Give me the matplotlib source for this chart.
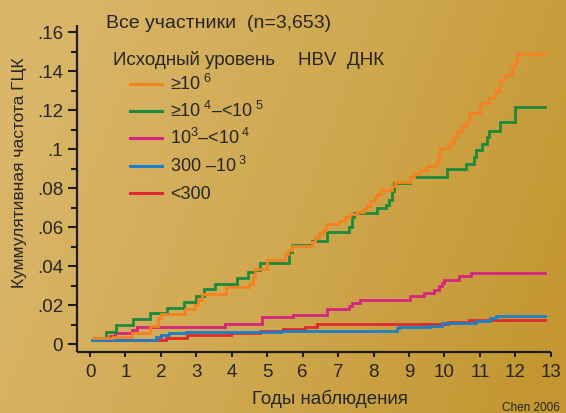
import numpy as np
import matplotlib
matplotlib.use("Agg")
import matplotlib.pyplot as plt
from matplotlib.lines import Line2D
from matplotlib.colors import LinearSegmentedColormap
from matplotlib.ticker import FixedLocator, FixedFormatter, MultipleLocator

plt.rcParams['font.family'] = ['Liberation Sans', 'DejaVu Sans']
plt.rcParams['mathtext.fontset'] = 'custom'
plt.rcParams['mathtext.rm'] = 'Liberation Sans'
plt.rcParams['mathtext.it'] = 'Liberation Sans'
plt.rcParams['mathtext.default'] = 'regular'

# Cumulative HCC incidence by baseline HBV DNA level (step curves)
follow_end = 12.85

years_ge6 = [0.1, 0.65, 1.18, 1.69, 1.93, 2.0, 2.68, 2.95, 3.06, 3.15, 3.84, 4.5, 4.6, 4.66,
             4.99, 5.51, 5.6, 5.7, 6.26, 6.35, 6.45, 6.57, 6.66, 7.02, 7.2, 7.34, 7.53, 7.72,
             7.81, 7.9, 8.04, 8.1, 8.2, 8.52, 8.6, 9.04, 9.13, 9.32, 9.51, 9.75, 9.84, 9.88,
             10.17, 10.26, 10.37, 10.5, 10.6, 10.69, 11.0, 11.25, 11.44, 11.58, 11.72, 11.91,
             11.96, 12.05]
cum_ge6 = [0.003, 0.0038, 0.0055, 0.0092, 0.0135, 0.0152, 0.0182, 0.020, 0.0226, 0.0256,
           0.0290, 0.031, 0.0345, 0.0385, 0.043, 0.0462, 0.048, 0.0504, 0.0525, 0.0546,
           0.0567, 0.0587, 0.0614, 0.063, 0.065, 0.0665, 0.0675, 0.069, 0.071, 0.0735,
           0.0755, 0.077, 0.079, 0.0812, 0.083, 0.0855, 0.087, 0.089, 0.0913, 0.0935,
           0.0978, 0.1007, 0.103, 0.1064, 0.109, 0.1118, 0.114, 0.1183, 0.1234, 0.126,
           0.130, 0.1354, 0.138, 0.1414, 0.144, 0.1487]

years_4_5 = [0.1, 0.45, 0.74, 1.22, 1.69, 2.17, 2.66, 2.99, 3.23, 3.53, 4.16, 4.46, 4.66,
             4.8, 5.62, 5.7, 6.26, 6.68, 7.30, 7.39, 7.44, 8.10, 8.35, 8.45, 8.52, 8.57,
             9.04, 10.08, 10.62, 10.83, 10.88, 11.06, 11.19, 11.25, 11.58, 11.98]
cum_4_5 = [0.003, 0.0063, 0.0097, 0.0130, 0.0157, 0.0183, 0.0215, 0.0245, 0.028, 0.0307,
           0.0337, 0.0368, 0.038, 0.0416, 0.047, 0.0508, 0.0530, 0.0576, 0.060, 0.0653,
           0.067, 0.0695, 0.0715, 0.0738, 0.0785, 0.0824, 0.0858, 0.0897, 0.0923, 0.096,
           0.0995, 0.1026, 0.106, 0.109, 0.114, 0.1214]

years_3_4 = [0.1, 0.57, 0.71, 1.19, 1.33, 3.8, 4.85, 5.74, 6.68, 7.3, 7.4, 7.63, 9.04,
             9.43, 9.7, 9.84, 9.93, 10.0, 10.4, 10.75]
cum_3_4 = [0.003, 0.0039, 0.0056, 0.0074, 0.0088, 0.0103, 0.0140, 0.0150, 0.0181, 0.0196,
           0.0212, 0.0226, 0.0246, 0.0264, 0.0277, 0.0297, 0.0314, 0.0328, 0.035, 0.0366]

years_300_3 = [0.05, 1.85, 2.0, 2.23, 2.7, 5.4, 8.66, 8.73, 9.6, 9.93, 10.9, 11.3, 11.45]
cum_300_3 = [0.002, 0.0035, 0.0047, 0.0056, 0.0063, 0.0068, 0.0080, 0.0087, 0.0093,
             0.0107, 0.0118, 0.0132, 0.0145]

years_lt300 = [0.22, 2.15, 2.75, 3.98, 4.8, 5.46, 6.07, 6.4, 10.1, 10.7]
cum_lt300 = [0.0021, 0.0032, 0.0045, 0.0056, 0.0065, 0.0076, 0.0089, 0.0102, 0.0115, 0.0123]

series_labels = ['≥10$^{\\ 6}$', '≥10$^{\\ 4}$–<10$^{\\ 5}$', '10$^{3}$–<10$^{\\ 4}$',
                 '300 –10$^{\\ 3}$', '<300']
series_colors = ['#f58220', '#1b8a3c', '#d5257f', '#1a7fc8', '#e0292e']

x_ticks = list(range(0, 14))
y_ticks = [0, 0.02, 0.04, 0.06, 0.08, 0.10, 0.12, 0.14, 0.16]
y_tick_labels = ['0', '.02', '.04', '.06', '.08', '.1', '.12', '.14', '.16']

W, H = 566, 413
fig = plt.figure(figsize=(W / 100, H / 100), dpi=100)

# warm gold gradient backdrop
bg = fig.add_axes([0, 0, 1, 1], zorder=-10)
gx = np.linspace(0, 1, 400)
gy = np.linspace(0, 1, 300)
GX, GY = np.meshgrid(gx, gy)
t = np.clip(0.9 * GX + 0.25 * (1 - GY) - 0.1, 0, 1)
cmap = LinearSegmentedColormap.from_list('gold', ['#dab66a', '#cfa84f', '#c39630'])
bg.imshow(t, cmap=cmap, aspect='auto', extent=[0, 1, 0, 1], origin='lower')
bg.set_axis_off()


def fx(px):
    return px / W


def fy(py):
    return 1 - py / H


ax = fig.add_axes([fx(77), fy(352), (550.7 - 77) / W, (352 - 25) / H])
ax.patch.set_alpha(0)

series = [(years_lt300, cum_lt300, 4), (years_300_3, cum_300_3, 3), (years_3_4, cum_3_4, 2),
          (years_4_5, cum_4_5, 1), (years_ge6, cum_ge6, 0)]
for xs, ys, idx in series:
    ax.plot(list(xs) + [follow_end], list(ys) + [ys[-1]], drawstyle='steps-post',
            color=series_colors[idx], lw=2.0, solid_joinstyle='miter', zorder=3 + (4 - idx))

ax.set_xlim(-0.367, 13.0)
ax.set_ylim(-0.0041, 0.1636)
ax.xaxis.set_major_locator(FixedLocator(x_ticks))
ax.yaxis.set_major_locator(FixedLocator(y_ticks))
ax.yaxis.set_major_formatter(FixedFormatter(y_tick_labels))
ax.yaxis.set_minor_locator(MultipleLocator(0.01))

for side in ('top', 'right'):
    ax.spines[side].set_visible(False)
for side in ('left', 'bottom'):
    ax.spines[side].set_linewidth(1.6)
    ax.spines[side].set_color('#1c1c1c')
    ax.spines[side].set_capstyle('butt')

txt = '#262626'
ax.tick_params(axis='both', which='major', direction='out', width=1.5, color='#1c1c1c',
               labelsize=13.5, labelcolor=txt)
ax.tick_params(axis='y', which='major', length=6.5, pad=3.5)
ax.tick_params(axis='y', which='minor', length=4.3, width=1.5, color='#1c1c1c')
ax.tick_params(axis='x', which='major', length=3.8, pad=5)

fig.text(fx(20), fy(172.5), 'Куммулятивная частота ГЦК', fontsize=12.5, color=txt,
         rotation=90, ha='center', va='center')
fig.text(fx(330), fy(404), 'Годы наблюдения', fontsize=13.5, color=txt,
         ha='center', va='baseline')

fig.text(fx(106), fy(27.5), 'Все участники  (n=3,653)', fontsize=14, color=txt, va='baseline')
fig.text(fx(113), fy(65), 'Исходный уровень', fontsize=13.5, color=txt, va='baseline')
fig.text(fx(298), fy(65), 'HBV  ДНК', fontsize=13.5, color=txt, va='baseline')

legend_rows = [84, 111, 138, 165.7, 193.3]
for i, py in enumerate(legend_rows):
    fig.add_artist(Line2D([fx(130), fx(162)], [fy(py), fy(py)], color=series_colors[i],
                          lw=2.2, transform=fig.transFigure))
    fig.text(fx(170), fy(py + 6), series_labels[i], fontsize=13, color=txt,
             va='baseline')

fig.text(fx(502), fy(411), 'Chen 2006', fontsize=8.5, color=txt, va='baseline')

fig.savefig('out.png', dpi=100)
